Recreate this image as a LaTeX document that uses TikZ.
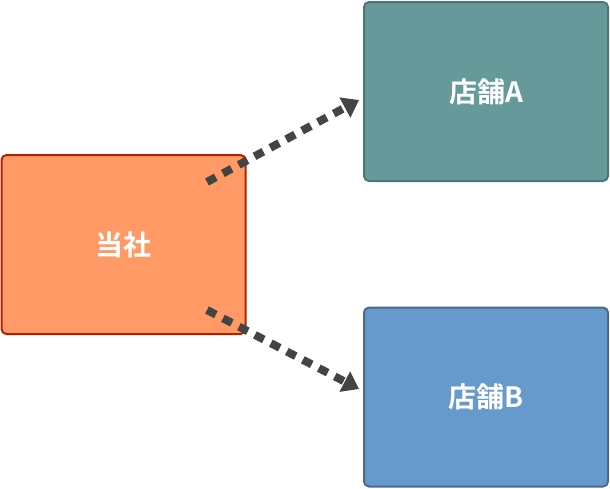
\documentclass[tikz,border=0pt]{standalone}
\usepackage{fontspec}
\newfontfamily\cjk{Noto Sans CJK JP}[BoldFont=Noto Sans CJK JP Bold]
\usetikzlibrary{arrows.meta}
\definecolor{orangefill}{HTML}{FF9966}
\definecolor{orangeline}{HTML}{B22200}
\definecolor{tealfill}{HTML}{669999}
\definecolor{tealline}{HTML}{4D7777}
\definecolor{bluefill}{HTML}{6699CC}
\definecolor{blueline}{HTML}{4D6A8A}
\definecolor{arrowgray}{HTML}{444444}
\tikzset{
  box/.style={draw, line width=2pt, rounded corners=5pt, minimum width=244pt,
    minimum height=179pt, text=white, font=\cjk\bfseries\fontsize{28pt}{32pt}\selectfont},
  link/.style={arrowgray, line width=8pt, dash pattern=on 10pt off 8pt,
    -{Triangle[length=16pt,width=22pt]}}
}
\begin{document}
\begin{tikzpicture}[x=1pt,y=-1pt]
  \useasboundingbox (0,0) rectangle (610,488);

  % 各ボックス
  \node[box, fill=orangefill, draw=orangeline] (company) at (123.5,244.5) {当社};
  \node[box, fill=tealfill, draw=tealline] (shopA) at (486,91.5) {店舗A};
  \node[box, fill=bluefill, draw=blueline] (shopB) at (486,397) {店舗B};

  % 矢印
  \coordinate (a1) at (207,182);
  \coordinate (a2) at (359,100);
  \coordinate (b1) at (207,310);
  \coordinate (b2) at (359,389);
  \draw[link] (a1) -- (a2);
  \draw[link] (b1) -- (b2);
\end{tikzpicture}
\end{document}
